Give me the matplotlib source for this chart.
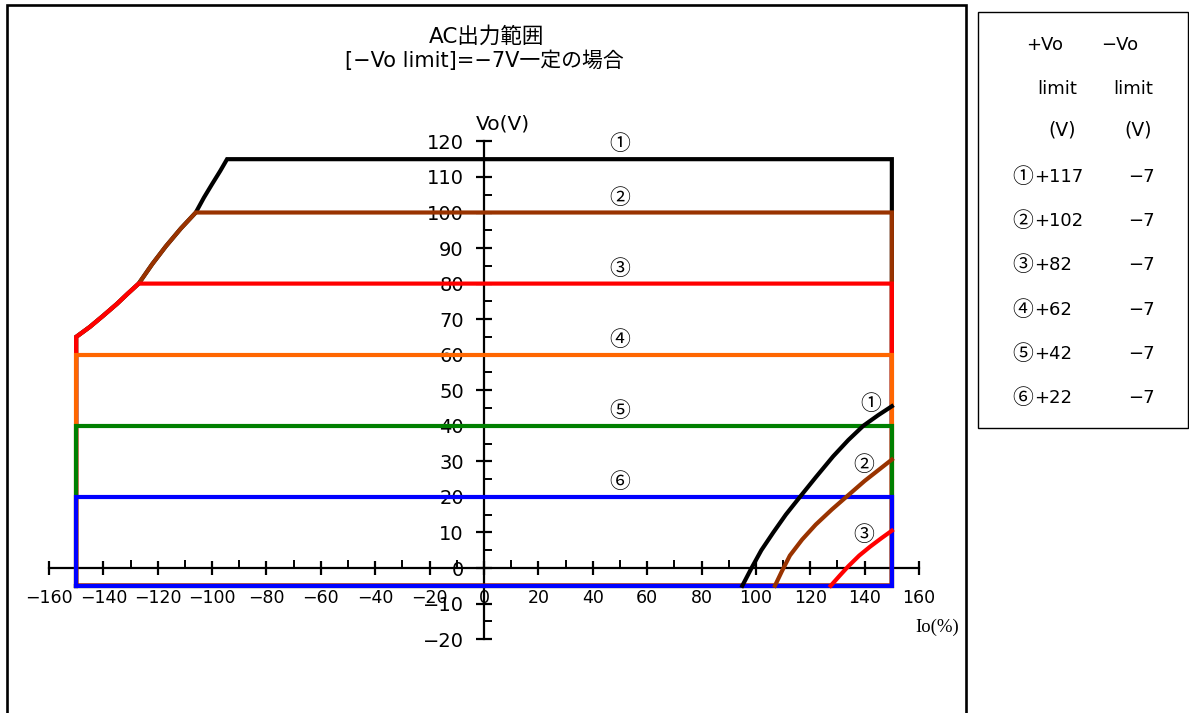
from matplotlib import pyplot as plt
from matplotlib.patches import Rectangle
from matplotlib.ticker import FixedLocator

plt.rcParams['font.family'] = ['DejaVu Sans', 'Noto Sans CJK JP']

# 各電圧範囲 (上限値と色)
marks = ['①', '②', '③', '④', '⑤', '⑥']
top_v = [115, 100, 80, 60, 40, 20]
colors = ['#000000', '#993300', '#ff0000', '#ff6600', '#008000', '#0000ff']
pos_limit = ['+117', '+102', '+82', '+62', '+42', '+22']
neg_limit = ['−7', '−7', '−7', '−7', '−7', '−7']

# 範囲の境界 (左側の曲線)
io_min, io_max, vo_min = -150, 150, -5
bound_io = [-150, -150, -145, -140, -135, -131, -127, -122, -117, -111.5, -106,
            -103, -100, -97, -94.5]
bound_vo = [-5, 65, 67.8, 71, 74.3, 77.2, 80, 85.5, 90.5, 95.5, 100,
            104.2, 108, 111.7, 115]

# 右下の曲線 ①②③
curve_io = [
    [95, 98.4, 102, 106.4, 111, 116.2, 122, 128.4, 134, 139.5, 145, 150],
    [107, 109.5, 112.5, 117, 122, 128, 134, 140, 145, 150],
    [127.5, 131, 134, 138, 142, 146, 150],
]
curve_vo = [
    [-5, 0, 5, 10, 15, 20, 25.5, 31.4, 36, 40, 43, 45.5],
    [-5, -1, 3.5, 8, 12.2, 16.5, 20.5, 24.5, 27.5, 30.5],
    [-5, -2, 0.5, 3.5, 6, 8.3, 10.5],
]
curve_label_io = [142.2, 139.7, 139.5]
curve_label_vo = [46, 29, 9.3]

W, H = 1189, 713
fig = plt.figure(figsize=(W / 100, H / 100), dpi=100)
ax = fig.add_axes([0, 0, 1, 1])
x0, sx, y0, sy = 484, 2.719, 568, 3.555
ax.set_xlim(-x0 / sx, (W - x0) / sx)
ax.set_ylim(-(H - y0) / sy, y0 / sy)
ax.patch.set_visible(False)

for v, c in zip(top_v, colors):
    xs = [i for i, b in zip(bound_io, bound_vo) if b <= v]
    ys = [b for b in bound_vo if b <= v]
    if ys[-1] < v:
        xs.append(io_min)
        ys.append(v)
    xs += [io_max, io_max, io_min]
    ys += [v, vo_min, vo_min]
    ax.plot(xs, ys, color=c, lw=3, solid_joinstyle='miter', zorder=3)

for m, v in zip(marks, top_v):
    ax.text(50, v + 4.2, m, ha='center', va='center', fontsize=15, zorder=5,
            family=['Noto Sans CJK JP'])

for k in range(3):
    ax.plot(curve_io[k], curve_vo[k], color=colors[k], lw=3, zorder=4)
    ax.text(curve_label_io[k], curve_label_vo[k], marks[k], ha='center',
            va='center', fontsize=15, zorder=5, family=['Noto Sans CJK JP'])

# 軸
for s in ['top', 'right']:
    ax.spines[s].set_visible(False)
ax.spines['bottom'].set_position(('data', 0))
ax.spines['bottom'].set_bounds(-160, 160)
ax.spines['left'].set_position(('data', 0))
ax.spines['left'].set_bounds(-20, 120)
for s in ['bottom', 'left']:
    ax.spines[s].set_linewidth(1.6)
    ax.spines[s].set_zorder(2)
ax.set_xticks(range(-160, 161, 20))
ax.set_yticks(range(-20, 121, 10))
ax.xaxis.set_minor_locator(FixedLocator(range(-150, 151, 20)))
ax.yaxis.set_minor_locator(FixedLocator(range(-15, 116, 10)))
ax.tick_params(axis='x', which='major', direction='inout', length=10, width=1.6,
               labelsize=12.5, pad=10)
ax.tick_params(axis='y', which='major', direction='inout', length=12, width=1.6,
               labelsize=14, pad=8.5)
ax.tick_params(which='minor', direction='in', length=5.5, width=1.4)

ax.text(7, 125, 'Vo(V)', ha='center', va='center', fontsize=14.5)
ax.text(158.5, -16.8, 'Io(%)', ha='left', va='center', fontsize=13.5,
        family=['Liberation Serif', 'Noto Sans CJK JP'])

# タイトル
fig.text(487 / W, 1 - 36 / H, 'AC出力範囲', ha='center', va='center', fontsize=15.5)
fig.text(484 / W, 1 - 61 / H, '[−Vo limit]=−7V一定の場合', ha='center',
         va='center', fontsize=15)

# 枠
fig.patches.append(Rectangle((7 / W, -0.1), 959 / W, 1.1 - 5 / H, fill=False,
                             lw=1.9, ec='black', transform=fig.transFigure))
fig.patches.append(Rectangle((978 / W, 1 - 428 / H), 210 / W, 416 / H, fill=False,
                             lw=1, ec='black', transform=fig.transFigure))

# 凡例表
fig.text(1045 / W, 1 - 45 / H, '+Vo', ha='center', va='center', fontsize=13)
fig.text(1120 / W, 1 - 45 / H, '−Vo', ha='center', va='center', fontsize=13)
fig.text(1057 / W, 1 - 89 / H, 'limit', ha='center', va='center', fontsize=13)
fig.text(1133 / W, 1 - 89 / H, 'limit', ha='center', va='center', fontsize=13)
fig.text(1062 / W, 1 - 130 / H, '(V)', ha='center', va='center', fontsize=13.5)
fig.text(1138 / W, 1 - 130 / H, '(V)', ha='center', va='center', fontsize=13.5)
for k in range(6):
    y = 1 - (177 + 44.2 * k) / H
    fig.text(1012 / W, y, marks[k], ha='left', va='center', fontsize=15,
             family=['Noto Sans CJK JP'])
    fig.text(1034 / W, y, pos_limit[k], ha='left', va='center', fontsize=13)
    fig.text(1155 / W, y, neg_limit[k], ha='right', va='center', fontsize=13)

fig.savefig('out.png', dpi=100)
